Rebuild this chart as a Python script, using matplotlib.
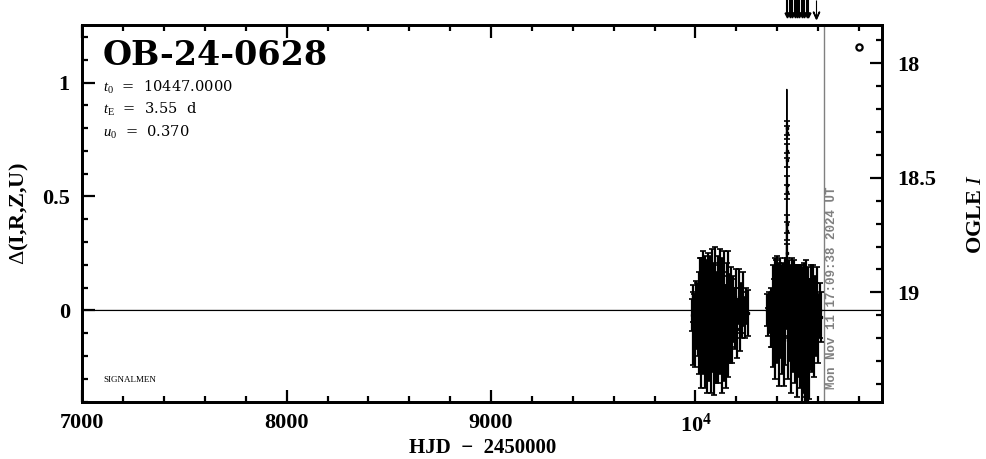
import numpy as np
import matplotlib
matplotlib.use('Agg')
import matplotlib.pyplot as plt
from matplotlib.ticker import MultipleLocator

plt.rcParams['font.family'] = ['Liberation Serif', 'DejaVu Serif']
plt.rcParams['mathtext.fontset'] = 'custom'
plt.rcParams['mathtext.rm'] = 'Liberation Serif'
plt.rcParams['mathtext.it'] = 'Liberation Serif:italic'
plt.rcParams['mathtext.bf'] = 'Liberation Serif:bold'

# ---- datos ----
evento = 'OB-24-0628'
t0, tE, u0 = 10447.0, 3.55, 0.370
fecha = 'Mon Nov 11 17:09:38 2024 UT'
t_hoy = 10627

# temporada 2023
t1 = [9983, 9986, 9990, 9994, 9997, 10001, 10004, 10008,
      10012, 10015, 10017, 10020, 10022, 10025, 10028, 10030, 10033, 10035,
      10038, 10041, 10043, 10046, 10048, 10051, 10054, 10056, 10059, 10061,
      10064, 10067, 10069, 10072, 10074, 10077, 10080, 10082, 10085, 10087,
      10090, 10093, 10095, 10098, 10100, 10103, 10106, 10108, 10111, 10113,
      10116, 10119, 10121, 10124, 10126, 10129, 10132, 10134, 10137, 10139,
      10142, 10145, 10147, 10150, 10152, 10155, 10158, 10160, 10163, 10165,
      10168, 10171, 10173, 10176, 10178, 10181, 10184, 10187, 10191, 10195,
      10200, 10205, 10211, 10217, 10223, 10229, 10235, 10241, 10248, 10255]
d1 = [-0.02, 0.03, -0.08, 0.01, -0.12, 0.04, -0.05, 0.02,
      -0.06, 0.05, -0.10, 0.08, -0.03, 0.10, -0.14, 0.02, 0.07, -0.09,
      0.12, -0.05, 0.01, -0.12, 0.09, -0.02, 0.05, -0.15, 0.11, -0.07,
      0.03, -0.11, 0.08, 0.00, -0.13, 0.06, -0.04, 0.10, -0.08, 0.02,
      -0.16, 0.07, -0.01, 0.12, -0.10, 0.04, -0.06, 0.09, -0.12, 0.01,
      0.06, -0.09, 0.11, -0.04, 0.03, -0.14, 0.08, -0.02, 0.05, -0.11,
      0.10, -0.07, 0.00, -0.13, 0.07, -0.03, 0.09, -0.10, 0.04, -0.06,
      0.02, -0.08, 0.06, -0.04, 0.03, -0.09, 0.05, -0.02, 0.01, -0.06,
      0.03, -0.08, 0.06, -0.04, 0.01, -0.02, 0.05, -0.03, 0.02, -0.01]
e1 = [0.07, 0.08, 0.16, 0.06, 0.13, 0.09, 0.12, 0.10,
      0.14, 0.12, 0.18, 0.15, 0.11, 0.13, 0.20, 0.10, 0.16, 0.19,
      0.14, 0.12, 0.09, 0.22, 0.15, 0.13, 0.17, 0.21, 0.14, 0.18,
      0.12, 0.20, 0.16, 0.11, 0.23, 0.13, 0.15, 0.17, 0.19, 0.12,
      0.21, 0.14, 0.10, 0.16, 0.22, 0.13, 0.18, 0.15, 0.20, 0.12,
      0.14, 0.19, 0.16, 0.11, 0.13, 0.22, 0.15, 0.17, 0.12, 0.20,
      0.16, 0.18, 0.11, 0.21, 0.14, 0.13, 0.17, 0.19, 0.12, 0.16,
      0.10, 0.15, 0.13, 0.12, 0.11, 0.14, 0.10, 0.12, 0.09, 0.11,
      0.15, 0.13, 0.12, 0.14, 0.11, 0.10, 0.12, 0.09, 0.08, 0.10]

# temporada 2024
t2 = [10352, 10356, 10360, 10364, 10368, 10372,
      10376, 10379, 10381, 10384, 10387, 10389, 10392, 10395, 10397, 10400,
      10403, 10405, 10408, 10411, 10413, 10416, 10419, 10421, 10424, 10427,
      10429, 10432, 10435, 10437, 10440, 10443, 10452, 10455, 10457, 10460,
      10463, 10465, 10468, 10471, 10473, 10476, 10479, 10481, 10484, 10487,
      10489, 10492, 10495, 10497, 10500, 10503, 10505, 10508, 10511, 10513,
      10516, 10519, 10521, 10524, 10527, 10529, 10532, 10535,
      10538, 10541, 10544, 10547, 10550, 10553, 10556, 10559,
      10563, 10568, 10573, 10578, 10583, 10588, 10594, 10600, 10607, 10614]
d2 = [0.00, -0.05, 0.03, -0.02, 0.04, -0.07,
      -0.04, 0.06, -0.09, 0.03, 0.10, -0.12, 0.01, 0.07, -0.06, 0.12,
      -0.02, 0.04, -0.14, 0.08, -0.05, 0.11, 0.00, -0.10, 0.06, -0.03,
      0.09, -0.13, 0.04, 0.13, -0.07, 0.05, 0.08, -0.11, 0.02, 0.10,
      -0.06, 0.07, -0.15, 0.03, 0.11, -0.09, 0.01, -0.04, 0.09, -0.12,
      0.05, -0.02, 0.08, -0.16, 0.03, 0.06, -0.10, 0.00, 0.07, -0.13,
      0.04, -0.05, -0.18, 0.02, -0.09, -0.14, 0.05, -0.20,
      -0.12, 0.04, -0.22, -0.08, -0.25, 0.02, -0.15, -0.06,
      0.02, -0.07, 0.05, -0.10, 0.01, -0.04, 0.06, -0.08, 0.00, -0.03]
e2 = [0.07, 0.06, 0.05, 0.08, 0.06, 0.09,
      0.12, 0.14, 0.16, 0.11, 0.13, 0.18, 0.10, 0.15, 0.17, 0.12,
      0.14, 0.11, 0.19, 0.13, 0.16, 0.12, 0.15, 0.18, 0.14, 0.13,
      0.12, 0.20, 0.15, 0.10, 0.17, 0.13, 0.11, 0.19, 0.14, 0.12,
      0.16, 0.13, 0.21, 0.15, 0.12, 0.18, 0.14, 0.16, 0.13, 0.20,
      0.15, 0.14, 0.12, 0.22, 0.16, 0.14, 0.19, 0.15, 0.13, 0.21,
      0.16, 0.18, 0.24, 0.17, 0.20, 0.22, 0.16, 0.25,
      0.26, 0.18, 0.30, 0.22, 0.28, 0.17, 0.24, 0.20,
      0.18, 0.20, 0.15, 0.19, 0.14, 0.16, 0.13, 0.15, 0.12, 0.11]

# noche del maximo
tpk = [10445.6, 10446.0, 10446.3, 10446.6, 10446.8, 10447.0, 10447.2,
       10447.4, 10447.7, 10448.0, 10448.4]
dpk = [0.12, 0.25, 0.38, 0.52, 0.66, 0.78, 0.80, 0.70, 0.55, 0.35, 0.18]
epk = [0.05, 0.04, 0.04, 0.03, 0.03, 0.03, 0.03, 0.03, 0.04, 0.04, 0.05]

# curva del modelo (linea base y pico)
tmod = [7000, 10443, 10445, 10446, 10447, 10448, 10449, 10451, 10914]
dmod = [0, 0, 0.25, 0.60, 0.97, 0.60, 0.25, 0, 0]

# flechas de alerta arriba
t_flechas = [10449, 10461, 10473, 10485, 10497, 10509, 10521, 10533, 10545, 10553]
t_flecha_fina = 10589

xticks = [7000, 8000, 9000, 10000]
xticklab = ['7000', '8000', '9000', r'$\mathbf{10^4}$']

# ---- grafica ----
fig = plt.figure(figsize=(9.86, 4.59), dpi=100)
ax = fig.add_axes([0.0835, 0.1235, 0.8113, 0.8214])

ax.plot(tmod, dmod, color='k', lw=0.9, zorder=3)
for t, d, e in [(t1, d1, e1), (t2, d2, e2), (tpk, dpk, epk)]:
    ax.errorbar(t, d, yerr=e, fmt='s', ms=2, color='k', ecolor='k',
                elinewidth=1.6, capsize=2, capthick=1.2, zorder=4)

ax.axvline(t_hoy, color='gray', lw=1.0, zorder=2)
ax.text(t_hoy + 40, -0.345, fecha, rotation=90, color='gray', fontsize=9,
        family='Liberation Mono', weight='bold', ha='center', va='bottom')

ax.plot([10800], [1.156], 'o', ms=4.5, mfc='white', mec='k', mew=1.6)

ax.vlines(t_flechas, 1.29, 1.36, color='k', lw=1.5, clip_on=False)
ax.plot(t_flechas, [1.295] * len(t_flechas), 'v', color='k', ms=3.5, clip_on=False)
ax.vlines([t_flecha_fina], 1.29, 1.36, color='k', lw=0.8, clip_on=False)
ax.plot([t_flecha_fina], [1.295], marker=r'$\vee$', color='k', ms=5, clip_on=False)

ax.text(7100, 1.19, evento, fontsize=24, weight='bold', va='top',
        family='DejaVu Serif')
ax.text(7100, 0.98, r'$t_0$  =  10447.0000', fontsize=10.5, va='center',
        family='DejaVu Serif')
ax.text(7100, 0.88, r'$t_{\rm E}$  =  3.55  d', fontsize=10.5, va='center',
        family='DejaVu Serif')
ax.text(7100, 0.78, r'$u_0$  =  0.370', fontsize=10.5, va='center',
        family='DejaVu Serif')
ax.text(7102, -0.305, 'SIGNALMEN', fontsize=6.5, va='center')

ax.set_xlim(7000, 10914)
ax.set_ylim(-0.403, 1.251)
ax.set_xticks(xticks)
ax.set_xticklabels(xticklab)
ax.xaxis.set_minor_locator(MultipleLocator(200))
ax.set_yticks([0, 0.5, 1])
ax.set_yticklabels(['0', '0.5', '1'])
ax.yaxis.set_minor_locator(MultipleLocator(0.1))
ax.tick_params(which='both', direction='in', top=True, right=False, width=1.6,
               labelsize=16)
ax.tick_params(which='major', length=9)
ax.tick_params(which='minor', length=4.5)
ax.tick_params(axis='x', pad=8)
ax.tick_params(axis='y', pad=9)
for lab in ax.get_xticklabels() + ax.get_yticklabels():
    lab.set_fontweight('bold')
for s in ax.spines.values():
    s.set_linewidth(2.0)

ax2 = ax.twinx()
ax2.set_ylim(19.480, 17.834)
ax2.set_yticks([18, 18.5, 19])
ax2.set_yticklabels(['18', '18.5', '19'])
ax2.yaxis.set_minor_locator(MultipleLocator(0.1))
ax2.tick_params(which='both', direction='in', width=1.6, labelsize=16, pad=11)
ax2.tick_params(which='major', length=9)
ax2.tick_params(which='minor', length=4.5)
for lab in ax2.get_yticklabels():
    lab.set_fontweight('bold')
for s in ax2.spines.values():
    s.set_linewidth(2.0)

ax.set_xlabel('HJD  \u2212  2450000', fontsize=15, weight='bold', labelpad=1)
ax.set_ylabel(r'$\Delta$(I,R,Z,U)', fontsize=16, weight='bold', labelpad=8)
ax2.set_ylabel(r'OGLE $I$', fontsize=16, weight='bold', labelpad=21)

fig.savefig('out.png', dpi=100)
